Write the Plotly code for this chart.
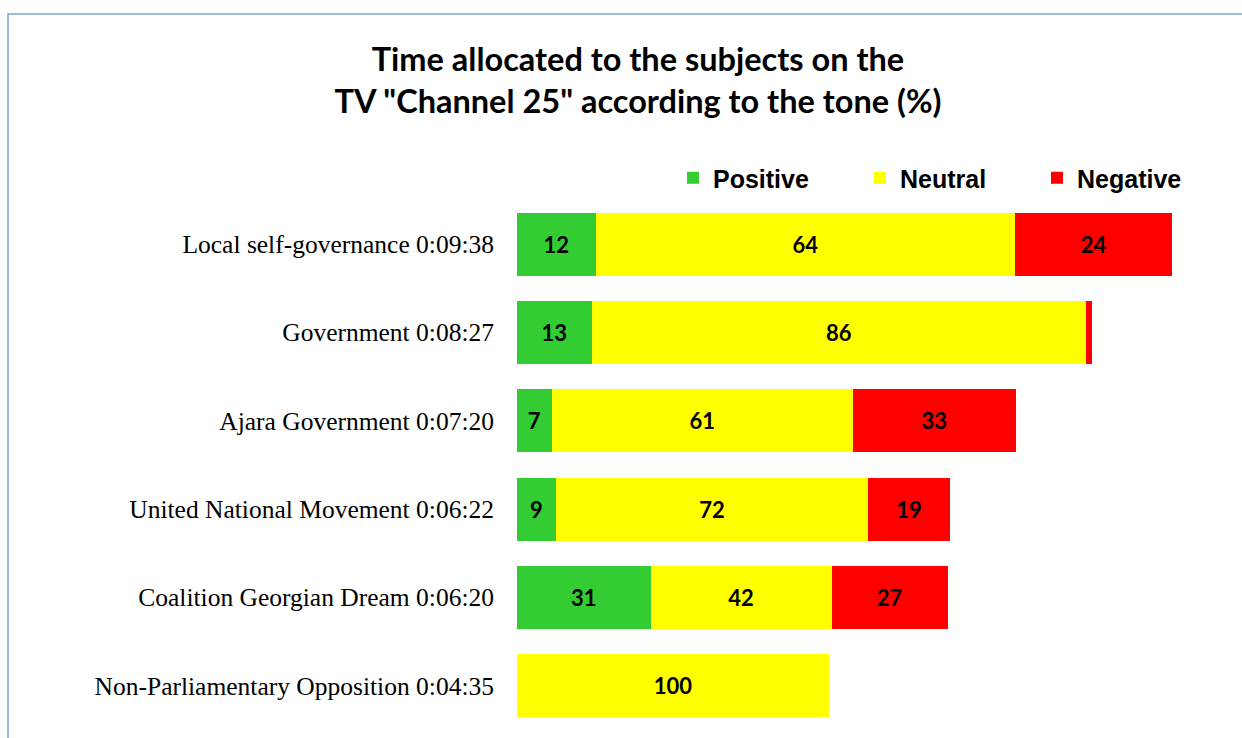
import plotly.graph_objects as go

categories = [
    "Local self-governance 0:09:38",
    "Government 0:08:27",
    "Ajara Government 0:07:20",
    "United National Movement 0:06:22",
    "Coalition Georgian Dream 0:06:20",
    "Non-Parliamentary Opposition 0:04:35",
]
durations = ["0:09:38", "0:08:27", "0:07:20", "0:06:22", "0:06:20", "0:04:35"]
positive = [12, 13, 7, 9, 31, 0]
neutral = [64, 86, 61, 72, 42, 100]
negative = [24, 1, 33, 19, 27, 0]
series_names = ["Positive", "Neutral", "Negative"]
colors = ["#33CC33", "#FFFF00", "#FF0000"]


def to_seconds(t):
    h, m, s = [int(p) for p in t.split(":")]
    return h * 3600 + m * 60 + s


secs = [to_seconds(t) for t in durations]
totals = [p + n + g for p, n, g in zip(positive, neutral, negative)]

W, H = 1242, 738
L, R, T, B = 517, 10, 200, 8
pw, ph = W - L - R, H - T - B


def px_x(p):
    return (p - L) / pw


def px_y(p):
    return (H - B - p) / ph


legend_ids = ["legend", "legend2", "legend3"]
legend_text_x = [713, 900, 1077]

fig = go.Figure()
for name, vals, col, lid in zip(series_names, [positive, neutral, negative], colors, legend_ids):
    xs = [s * v / t for s, v, t in zip(secs, vals, totals)]
    txt = [str(v) if v >= 5 else "" for v in vals]
    fig.add_trace(go.Bar(
        name=name, y=categories, x=xs, orientation="h",
        marker=dict(color=col, line=dict(width=0)),
        text=txt, textposition="inside", insidetextanchor="middle",
        textangle=0,
        textfont=dict(family="Lato", size=22, color="black", weight="bold"),
        hoverinfo="skip", legend=lid,
    ))

legend_font = dict(family="Liberation Sans", size=25, color="black", weight="bold")
legends = {}
for lid, tx in zip(legend_ids, legend_text_x):
    legends[lid] = dict(
        x=px_x(tx - 40), xanchor="left", y=px_y(178), yanchor="middle",
        font=legend_font, bgcolor="rgba(0,0,0,0)", borderwidth=0,
    )

fig.update_layout(
    barmode="stack", bargap=0.29,
    width=W, height=H,
    margin=dict(l=L, r=R, t=T, b=B),
    paper_bgcolor="white", plot_bgcolor="white",
    title=dict(
        text="Time allocated to the subjects on the<br>TV \"Channel 25\" according to the tone (%)",
        x=638 / W, xref="container", xanchor="center",
        y=1 - 71 / H, yref="container", yanchor="middle",
        font=dict(family="Lato", size=32.5, color="black", weight="bold"),
    ),
    xaxis=dict(range=[0, pw * 0.882], showgrid=False, zeroline=False,
               showticklabels=False, showline=False, fixedrange=True),
    yaxis=dict(autorange="reversed", showgrid=False, zeroline=False, showline=False,
               ticks="", ticklabelstandoff=22,
               tickfont=dict(family="Liberation Serif", size=25.5, color="black")),
    showlegend=True,
    shapes=[dict(type="rect", xref="paper", yref="paper",
                 x0=px_x(8), x1=px_x(1260), y0=px_y(760), y1=px_y(14),
                 line=dict(color="#7EA3D6", width=1.5), layer="below")],
    **legends,
)

fig.write_html("out.html", config={"displayModeBar": False},
               post_script="document.body.style.margin='0px';")
